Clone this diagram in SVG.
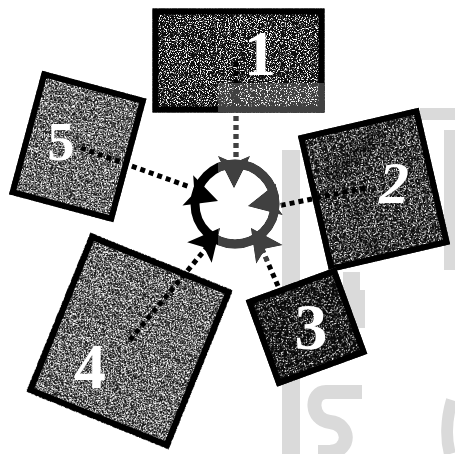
<svg xmlns="http://www.w3.org/2000/svg" width="455" height="454" viewBox="0 0 455 454">
  <defs>
    <filter id="grain" x="0%" y="0%" width="100%" height="100%" color-interpolation-filters="sRGB">
      <feTurbulence type="fractalNoise" baseFrequency="0.9" numOctaves="2" seed="7" result="t"/>
      <feColorMatrix in="t" type="matrix" values="0 0 0 0 1  0 0 0 0 1  0 0 0 0 1  7 0 0 0 -3.25" result="sp"/>
      <feComposite in="sp" in2="SourceGraphic" operator="in" result="spc"/>
      <feMerge><feMergeNode in="SourceGraphic"/><feMergeNode in="spc"/></feMerge>
    </filter>
    <filter id="grainDark" x="0%" y="0%" width="100%" height="100%" color-interpolation-filters="sRGB">
      <feTurbulence type="fractalNoise" baseFrequency="0.9" numOctaves="2" seed="3" result="t"/>
      <feColorMatrix in="t" type="matrix" values="0 0 0 0 1  0 0 0 0 1  0 0 0 0 1  7 0 0 0 -3.6" result="sp"/>
      <feComposite in="sp" in2="SourceGraphic" operator="in" result="spc"/>
      <feMerge><feMergeNode in="SourceGraphic"/><feMergeNode in="spc"/></feMerge>
    </filter>
    <filter id="grainDarker" x="0%" y="0%" width="100%" height="100%" color-interpolation-filters="sRGB">
      <feTurbulence type="fractalNoise" baseFrequency="0.9" numOctaves="2" seed="5" result="t"/>
      <feColorMatrix in="t" type="matrix" values="0 0 0 0 1  0 0 0 0 1  0 0 0 0 1  7 0 0 0 -3.9" result="sp"/>
      <feComposite in="sp" in2="SourceGraphic" operator="in" result="spc"/>
      <feMerge><feMergeNode in="SourceGraphic"/><feMergeNode in="spc"/></feMerge>
    </filter>
    <filter id="soft" x="-20%" y="-20%" width="140%" height="140%">
      <feGaussianBlur stdDeviation="5"/>
    </filter>
    <polygon id="head" points="0,0 -32,-16 -25,0 -32,16"/>
  </defs>
  <style>
    .frame { fill: none; stroke: #000; stroke-width: 6; }
    .num { font-family: "Liberation Serif", "Times New Roman", serif; font-weight: bold; fill: #fff; text-anchor: middle; }
    .dots { fill: none; stroke: #000; stroke-width: 5; stroke-dasharray: 5 4; }
    .wm { fill: #dadada; }
    .wms { fill: none; stroke: #dadada; }
  </style>
  <rect width="455" height="454" fill="#fff"/>

  <g id="watermark">
    <rect class="wm" x="282" y="150" width="18" height="304"/>
    <path class="wms" stroke-width="14" d="M362,392 H326 C310,392 310,420 330,422 C350,424 352,450 330,452 H318"/>
    <path class="wm" d="M343,272 H360 V290 H365 V328 H343 Z"/>
    <path class="wms" stroke-width="12" d="M452,400 C446,420 446,440 450,454"/>
    <rect class="wm" x="420" y="108" width="35" height="12"/>
    <rect class="wm" x="444" y="130" width="11" height="140"/>
  </g>

  <g id="node1">
    <g transform="translate(238.5,60.5)">
      <rect x="-86" y="-52" width="172" height="104" fill="#0e0e0e" filter="url(#grainDark)"/>
      <rect class="frame" x="-83" y="-49" width="166" height="98"/>
    </g>
  </g>
  <g id="node2">
    <g transform="translate(374,190) rotate(-13)">
      <rect x="-62" y="-70" width="124" height="140" fill="#0e0e0e" filter="url(#grainDark)"/>
      <path d="M-40,-20 L20,-58 M-25,45 L-10,60" stroke="#000" stroke-width="10" opacity="0.5" filter="url(#soft)"/>
      <rect class="frame" x="-59" y="-67" width="118" height="134"/>
    </g>
  </g>
  <g id="node3">
    <g transform="translate(306.5,327) rotate(-20)">
      <rect x="-48" y="-46" width="96" height="92" fill="#0a0a0a" filter="url(#grainDarker)"/>
      <rect class="frame" x="-45" y="-43" width="90" height="86"/>
    </g>
  </g>
  <g id="node4">
    <g transform="translate(129.5,341) rotate(22)">
      <rect x="-77" y="-86" width="154" height="172" fill="#161616" filter="url(#grain)"/>
      <rect class="frame" x="-73.5" y="-82.5" width="147" height="165" stroke-width="7"/>
    </g>
  </g>
  <g id="node5">
    <g transform="translate(77.75,146.5) rotate(15)">
      <rect x="-54" y="-64" width="108" height="128" fill="#181818" filter="url(#grain)"/>
      <rect class="frame" x="-51" y="-61" width="102" height="122" stroke-width="7"/>
    </g>
  </g>

  <g id="connectors">
    <path class="dots" d="M236,62 V158"/>
    <path class="dots" d="M365,188 L278,206"/>
    <path class="dots" d="M278,286 L259,242"/>
    <path class="dots" d="M130,340 L208,246"/>
    <path class="dots" d="M81,148 L190,187"/>
  </g>

  <g id="hub">
    <circle cx="235" cy="204" r="40" fill="#fff" stroke="#000" stroke-width="9"/>
    <use href="#head" transform="translate(234,188) rotate(90)"/>
    <use href="#head" transform="translate(248,206) rotate(168)"/>
    <use href="#head" transform="translate(251,228) rotate(-125)"/>
    <use href="#head" transform="translate(220,228) rotate(-50)"/>
    <use href="#head" transform="translate(218,201) rotate(19.5)"/>
  </g>

  <g id="labels">
    <text class="num" x="260" y="75" font-size="64">1</text>
    <text class="num" x="394" y="203" font-size="60" font-style="italic">2</text>
    <text class="num" x="311" y="349" font-size="66">3</text>
    <text class="num" x="90" y="388" font-size="64">4</text>
    <text class="num" x="61" y="160" font-size="54">5</text>
  </g>

  <path d="M218,83 H326 V115 H282 V262 H218 Z" fill="#404040" style="mix-blend-mode:lighten"/>
</svg>
